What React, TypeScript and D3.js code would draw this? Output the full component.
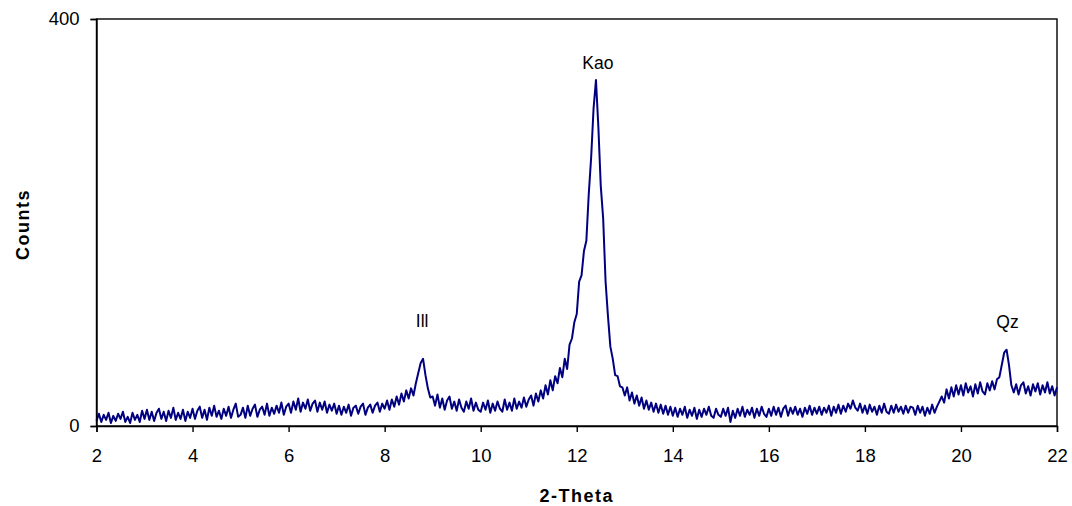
import React, { useEffect, useRef } from 'react';
import * as d3 from 'd3';

// 2-theta grid: 2.00 .. 22.00, every 0.05
const thetaStart = 2;
const thetaStep = 0.05;

// counts, one row per degree
const counts: number[] = [
  // 2
  5, 12, 4, 11, 6, 13, 3, 10, 5, 12, 7, 14, 4, 9, 3, 13, 6, 11, 4, 15,
  // 3
  7, 16, 6, 14, 5, 13, 17, 7, 14, 5, 15, 8, 18, 6, 13, 7, 16, 5, 14, 8,
  // 4
  17, 7, 15, 19, 8, 16, 6, 18, 10, 20, 9, 15, 7, 17, 10, 19, 8, 16, 22, 9,
  // 5
  11, 18, 8, 20, 10, 17, 21, 9, 16, 19, 11, 22, 10, 18, 12, 20, 13, 23, 11, 19,
  // 6
  22, 13, 24, 16, 27, 14, 23, 17, 26, 15, 22, 25, 14, 23, 16, 24, 13, 21, 15, 22,
  // 7
  12, 20, 11, 19, 13, 21, 10, 18, 20, 12, 19, 22, 11, 18, 21, 13, 20, 23, 14, 22,
  // 8
  17, 25, 16, 26, 19, 29, 21, 32, 24, 35, 27, 37, 30, 42, 52, 62, 66, 50, 37, 28,
  // 9
  29, 20, 31, 18, 27, 16, 25, 29, 17, 24, 15, 26, 18, 14, 24, 17, 27, 15, 23, 16,
  // 10
  14, 23, 16, 25, 13, 22, 15, 24, 17, 14, 26, 16, 23, 15, 27, 17, 24, 18, 28, 19,
  // 11
  26, 30, 20, 32, 24, 35, 27, 40, 31, 45, 35, 49, 42, 57, 48, 66, 56, 80, 86, 102,
  // 12
  110, 142, 148, 172, 182, 228, 264, 312, 340, 294, 236, 204, 142, 108, 78, 66, 50, 49, 39, 38,
  // 13
  30, 38, 25, 33, 22, 30, 20, 28, 17, 25, 16, 23, 14, 22, 13, 21, 12, 20, 11, 19,
  // 14
  10, 18, 9, 17, 11, 19, 8, 16, 10, 18, 7, 16, 9, 17, 11, 19, 10, 8, 17, 11,
  // 15
  9, 17, 10, 18, 4, 15, 8, 17, 10, 19, 9, 16, 11, 18, 8, 17, 10, 19, 12, 9,
  // 16
  17, 10, 19, 11, 18, 9, 17, 20, 10, 18, 12, 19, 11, 17, 9, 18, 12, 20, 11, 18,
  // 17
  12, 19, 11, 18, 13, 20, 10, 19, 13, 21, 12, 20, 14, 22, 17, 25, 18, 15, 22, 13,
  // 18
  20, 12, 21, 14, 19, 11, 20, 13, 22, 14, 12, 20, 13, 21, 14, 19, 12, 20, 13, 19,
  // 19
  18, 11, 20, 13, 19, 10, 18, 12, 21, 13, 19, 24, 29, 23, 36, 27, 38, 29, 40, 31,
  // 20
  40, 30, 42, 33, 39, 29, 41, 32, 43, 34, 31, 42, 35, 44, 36, 46, 48, 60, 72, 75,
  // 21
  60, 40, 33, 41, 31, 40, 43, 32, 39, 30, 41, 34, 42, 31, 40, 33, 43, 32, 39, 30,
  // 22
  38,
];

const xTicks = [2, 4, 6, 8, 10, 12, 14, 16, 18, 20, 22];
const yTicks = [0, 400];

// peak labels
const peakNames = ['Ill', 'Kao', 'Qz'];
const peakTheta = [8.78, 12.44, 20.97];
const peakLabelCounts = [97, 351, 96];

const App = () => {
  const svgRef = useRef<SVGSVGElement>(null);

  useEffect(() => {
    const width = 1072;
    const height = 506;
    const margin = { top: 19, right: 15, bottom: 80, left: 96.5 };

    const svg = d3.select(svgRef.current);
    svg.selectAll('*').remove();

    const x = d3.scaleLinear().domain([2, 22]).range([margin.left, width - margin.right]);
    const y = d3.scaleLinear().domain([0, 400]).range([height - margin.bottom, margin.top]);

    const font = 'Liberation Sans, Arial, sans-serif';

    // frame
    svg.append('rect')
      .attr('x', x(2))
      .attr('y', y(400))
      .attr('width', x(22) - x(2))
      .attr('height', y(0) - y(400))
      .attr('fill', 'none')
      .attr('stroke', '#000')
      .attr('stroke-width', 1.4);

    // pattern
    const pts = counts.map((c, i) => [thetaStart + i * thetaStep, c] as [number, number]);
    const line = d3.line<[number, number]>()
      .x(d => x(d[0]))
      .y(d => y(d[1]));

    svg.append('path')
      .datum(pts)
      .attr('d', line)
      .attr('fill', 'none')
      .attr('stroke', '#000080')
      .attr('stroke-width', 2)
      .attr('stroke-linejoin', 'round');

    // axes
    const xAxis = svg.append('g')
      .attr('transform', `translate(0,${y(0)})`)
      .call(d3.axisBottom(x).tickValues(xTicks).tickSize(6).tickPadding(17).tickFormat(d3.format('d')));
    const yAxis = svg.append('g')
      .attr('transform', `translate(${x(2)},0)`)
      .call(d3.axisLeft(y).tickValues(yTicks).tickSize(6).tickPadding(11).tickFormat(d3.format('d')));

    [xAxis, yAxis].forEach(g => {
      g.select('.domain').attr('stroke', '#000').attr('stroke-width', 1.4);
      g.selectAll('.tick line').attr('stroke', '#000').attr('stroke-width', 1.4);
      g.selectAll('.tick text')
        .attr('font-family', font)
        .attr('font-size', 18.5)
        .attr('fill', '#000');
    });
    yAxis.selectAll('.tick text').attr('dy', '0.28em');

    // peak labels
    svg.append('g')
      .selectAll('text')
      .data(peakNames)
      .join('text')
      .attr('x', (d, i) => x(peakTheta[i]))
      .attr('y', (d, i) => y(peakLabelCounts[i]))
      .attr('text-anchor', 'middle')
      .attr('font-family', font)
      .attr('font-size', 17.5)
      .attr('fill', '#000')
      .text(d => d);

    // axis titles
    svg.append('text')
      .attr('x', (x(2) + x(22)) / 2)
      .attr('y', 502)
      .attr('text-anchor', 'middle')
      .attr('font-family', font)
      .attr('font-size', 18)
      .attr('font-weight', 'bold')
      .attr('letter-spacing', 1.5)
      .text('2-Theta');

    svg.append('text')
      .attr('transform', `translate(29,${(y(0) + y(400)) / 2 + 2}) rotate(-90)`)
      .attr('text-anchor', 'middle')
      .attr('font-family', font)
      .attr('font-size', 18)
      .attr('font-weight', 'bold')
      .attr('letter-spacing', 1.5)
      .text('Counts');
  }, []);

  return (
    <svg
      ref={svgRef}
      width={1072}
      height={506}
      style={{ position: 'absolute', left: 0, top: 0, background: '#fff' }}
    />
  );
};

export default App;
